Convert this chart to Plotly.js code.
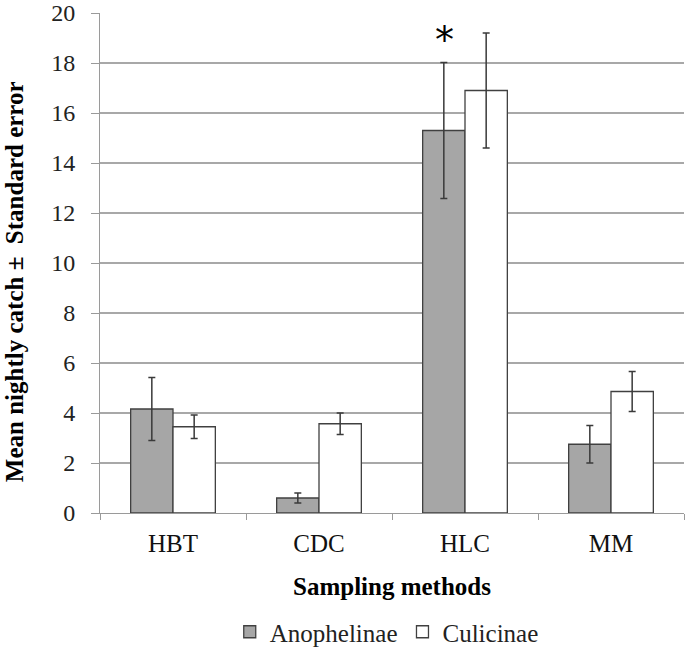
<!DOCTYPE html>
<html>
<head>
<meta charset="utf-8">
<script src="https://cdn.plot.ly/plotly-3.0.1.min.js"></script>
<style>html,body{margin:0;padding:0;background:#fff;}#chart{width:685px;height:648px;}</style>
</head>
<body>
<div id="chart"></div>
<script>
const categories = ["HBT", "CDC", "HLC", "MM"];
const anophelinae = [4.16, 0.6, 15.3, 2.75];
const anophelinaeSE = [1.26, 0.2, 2.72, 0.75];
const culicinae = [3.45, 3.57, 16.9, 4.86];
const culicinaeSE = [0.47, 0.43, 2.3, 0.8];
const yTicks = [0, 2, 4, 6, 8, 10, 12, 14, 16, 18, 20];

const serif = "Liberation Serif, Times New Roman, serif";
const errStyle = {type: "data", visible: true, color: "#3a3a3a", thickness: 1.5, width: 3.5};

const traces = [
  {
    type: "bar", name: "Anophelinae", x: categories, y: anophelinae,
    error_y: Object.assign({array: anophelinaeSE}, errStyle),
    marker: {color: "#a6a6a6", line: {color: "#404040", width: 1.3}}
  },
  {
    type: "bar", name: "Culicinae", x: categories, y: culicinae,
    error_y: Object.assign({array: culicinaeSE}, errStyle),
    marker: {color: "#ffffff", line: {color: "#404040", width: 1.3}}
  }
];

const layout = {
  width: 685, height: 648,
  margin: {l: 100, r: 1, t: 13, b: 135},
  paper_bgcolor: "#ffffff", plot_bgcolor: "#ffffff",
  barmode: "group", bargap: 0.42, bargroupgap: 0,
  font: {family: serif, color: "#000000", size: 24},
  showlegend: true,
  legend: {orientation: "h", x: 0.491, xanchor: "center", xref: "paper",
           y: 16 / 648, yref: "container", yanchor: "middle",
           font: {family: serif, size: 25, color: "#222"}, itemwidth: 30, traceorder: "normal"},
  xaxis: {
    type: "category", tickson: "boundaries", ticks: "outside", ticklen: 6, tickcolor: "#9a9a9a",
    showline: true, linecolor: "#9a9a9a", linewidth: 1, showgrid: false, zeroline: false,
    automargin: false, ticklabelstandoff: 8,
    tickfont: {family: serif, size: 25, color: "#111"},
    title: {text: "<b>Sampling methods</b>", font: {family: serif, size: 25, color: "#000"}, standoff: 21}
  },
  yaxis: {
    range: [0, 20], tickvals: yTicks, ticktext: yTicks.map(String),
    ticks: "outside", ticklen: 8, tickcolor: "#9a9a9a",
    showline: true, linecolor: "#9a9a9a", linewidth: 1,
    automargin: false, ticklabelstandoff: 11,
    showgrid: true, gridcolor: "#a8a8a8", gridwidth: 1.3, zeroline: false,
    tickfont: {family: serif, size: 24, color: "#222"}
  },
  annotations: [
    {x: categories[2], y: anophelinae[2] + anophelinaeSE[2], xref: "x", yref: "y", text: "*",
     showarrow: false, xshift: -21, yanchor: "bottom", yshift: -1,
     font: {family: "DejaVu Sans, sans-serif", size: 38, color: "#000"}},
    {x: -0.147, y: 0.462, xref: "paper", yref: "paper", xanchor: "center", yanchor: "middle",
     text: "<b>Mean nightly catch ±  Standard error</b>", textangle: -90, showarrow: false,
     font: {family: serif, size: 25, color: "#000"}}
  ]
};

Plotly.newPlot("chart", traces, layout, {displayModeBar: false, staticPlot: true});
</script>
</body>
</html>
